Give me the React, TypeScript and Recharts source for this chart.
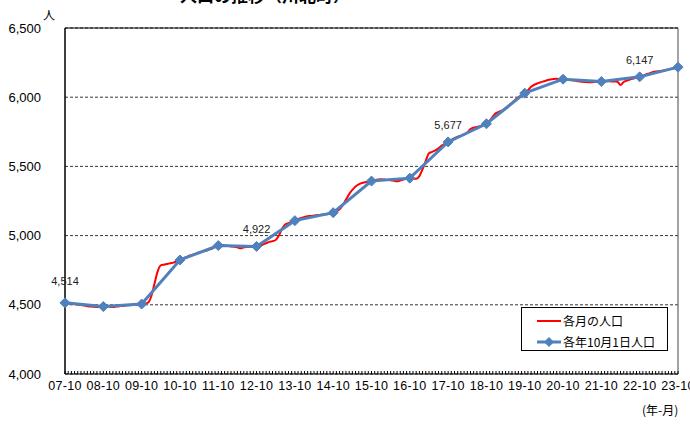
import React from "react";
import {
  LineChart, Line, XAxis, YAxis, CartesianGrid, ReferenceLine, LabelList,
} from "recharts";

// tick labels for each October
const yearLabels = [
  "07-10", "08-10", "09-10", "10-10", "11-10", "12-10", "13-10", "14-10", "15-10",
  "16-10", "17-10", "18-10", "19-10", "20-10", "21-10", "22-10", "23-10",
];

// population on Oct 1 of each year
const yearlyValues = [
  4514, 4487, 4505, 4824, 4928, 4922, 5108, 5166, 5394,
  5415, 5677, 5808, 6029, 6130, 6113, 6147, 6217,
];

// monthly population, Oct .. Sep of each year
const m07 = [4514, 4510, 4507, 4505, 4502, 4498, 4495, 4490, 4488, 4486, 4484, 4485];
const m08 = [4487, 4488, 4486, 4485, 4487, 4490, 4492, 4495, 4497, 4500, 4502, 4503];
const m09 = [4505, 4508, 4515, 4560, 4650, 4740, 4785, 4790, 4795, 4800, 4805, 4815];
const m10 = [4824, 4835, 4845, 4855, 4862, 4870, 4878, 4885, 4890, 4898, 4905, 4918];
const m11 = [4928, 4930, 4928, 4925, 4922, 4920, 4915, 4908, 4915, 4918, 4920, 4921];
const m12 = [4922, 4928, 4935, 4945, 4955, 4960, 4968, 5000, 5050, 5080, 5090, 5100];
const m13 = [5108, 5120, 5128, 5135, 5140, 5142, 5145, 5148, 5150, 5152, 5155, 5158];
const m14 = [5166, 5175, 5190, 5220, 5260, 5300, 5330, 5355, 5370, 5380, 5385, 5390];
const m15 = [5394, 5400, 5405, 5408, 5405, 5402, 5400, 5396, 5392, 5398, 5405, 5410];
const m16 = [5415, 5412, 5410, 5430, 5480, 5540, 5595, 5605, 5615, 5630, 5650, 5665];
const m17 = [5677, 5690, 5705, 5715, 5720, 5730, 5745, 5770, 5780, 5785, 5790, 5800];
const m18 = [5808, 5830, 5860, 5885, 5895, 5905, 5920, 5940, 5960, 5980, 6000, 6015];
const m19 = [6029, 6050, 6075, 6090, 6100, 6108, 6115, 6122, 6128, 6132, 6133, 6131];
const m20 = [6130, 6128, 6125, 6122, 6118, 6115, 6112, 6110, 6108, 6108, 6110, 6112];
const m21 = [6113, 6115, 6115, 6114, 6113, 6112, 6088, 6110, 6120, 6128, 6135, 6142];
const m22 = [6147, 6155, 6165, 6172, 6180, 6185, 6188, 6192, 6195, 6200, 6205, 6210];
const m23 = [6217];

const monthlyValues = [
  ...m07, ...m08, ...m09, ...m10, ...m11, ...m12, ...m13, ...m14, ...m15,
  ...m16, ...m17, ...m18, ...m19, ...m20, ...m21, ...m22, ...m23,
];

const labeledYears = [0, 5, 10, 15];
const yTicks = [4000, 4500, 5000, 5500, 6000, 6500];

const data = monthlyValues.map((v, i) => ({
  i,
  monthly: v,
  yearly: i % 12 === 0 ? yearlyValues[i / 12] : null,
}));

const latin = '"Liberation Sans", Arial, sans-serif';
const cjk = '"Noto Sans CJK JP", "Liberation Sans", sans-serif';

const XTick = (props: any) => {
  const { x, y, payload } = props;
  const v = payload.value;
  return (
    <g>
      <line x1={x} x2={x} y1={y} y2={y - 3} stroke="#000" strokeWidth={1} />
      {v % 12 === 0 && (
        <text x={x} y={y + 16} textAnchor="middle" fontSize={12.5} fontFamily={latin} fill="#000" letterSpacing={0.3}>
          {yearLabels[v / 12]}
        </text>
      )}
    </g>
  );
};

const Diamond = (props: any) => {
  const { cx, cy, payload, index } = props;
  if (payload?.yearly == null || cx == null || cy == null) return <g key={`d-${index}`} />;
  const r = 5;
  return (
    <path
      key={`d-${index}`}
      d={`M${cx},${cy - r} L${cx + r},${cy} L${cx},${cy + r} L${cx - r},${cy} Z`}
      fill="#4f81bd"
      stroke="#4f81bd"
    />
  );
};

const ValueLabel = (props: any) => {
  const { x, y, value, index } = props;
  if (value == null || !labeledYears.includes(index / 12)) return null;
  const dy = index === 0 ? 18 : 13;
  return (
    <text x={x} y={y - dy} textAnchor="middle" fontSize={11} fontFamily={latin} fill="#222">
      {Number(value).toLocaleString("en-US")}
    </text>
  );
};

export default function App() {
  return (
    <div style={{ position: "absolute", left: 0, top: 0, width: 690, height: 428, background: "#fff", overflow: "hidden" }}>
      <div style={{ position: "absolute", left: 180, top: -14, width: 160, textAlign: "center", fontSize: 17, fontWeight: 700, fontFamily: cjk, lineHeight: 1, whiteSpace: "nowrap" }}>
        人口の推移（川北町）
      </div>
      <div style={{ position: "absolute", left: 43, top: 9, fontSize: 12, fontFamily: cjk, lineHeight: 1 }}>人</div>

      <LineChart width={690} height={428} data={data} margin={{ top: 28, right: 12, bottom: 24, left: 0 }}>
        <CartesianGrid vertical={false} stroke="#000" strokeDasharray="3 2" strokeWidth={0.8} />
        <XAxis
          dataKey="i"
          type="number"
          domain={[0, 192]}
          ticks={data.map((d) => d.i)}
          interval={0}
          height={30}
          tickSize={0}
          tickMargin={0}
          tickLine={false}
          axisLine={{ stroke: "#000", strokeWidth: 1.2 }}
          tick={<XTick />}
        />
        <YAxis
          domain={[4000, 6500]}
          ticks={yTicks}
          width={65}
          tickLine={false}
          tickSize={0}
          tickMargin={24}
          axisLine={{ stroke: "#000", strokeWidth: 1.5 }}
          tick={{ fontSize: 13, fill: "#000", fontFamily: latin }}
          tickFormatter={(v: number) => v.toLocaleString("en-US")}
        />
        <ReferenceLine y={6500} stroke="#000" strokeWidth={1.2} />
        <ReferenceLine x={192} stroke="#666" strokeWidth={1.2} />
        <Line
          type="monotone"
          dataKey="monthly"
          stroke="#ff0000"
          strokeWidth={2}
          dot={false}
          activeDot={false}
          isAnimationActive={false}
        />
        <Line
          type="linear"
          dataKey="yearly"
          stroke="#4f81bd"
          strokeWidth={3}
          connectNulls
          dot={<Diamond />}
          activeDot={false}
          isAnimationActive={false}
        >
          <LabelList dataKey="yearly" content={<ValueLabel />} />
        </Line>
      </LineChart>

      <div style={{ position: "absolute", left: 521, top: 307, width: 147, height: 44, border: "1px solid #000", background: "#fff", fontFamily: cjk, fontSize: 12, boxSizing: "border-box" }}>
        <div style={{ position: "absolute", left: 15, top: 4, display: "flex", alignItems: "center" }}>
          <svg width={24} height={12}><line x1={0} x2={24} y1={6} y2={6} stroke="#ff0000" strokeWidth={2} /></svg>
          <span style={{ marginLeft: 2 }}>各月の人口</span>
        </div>
        <div style={{ position: "absolute", left: 15, top: 25, display: "flex", alignItems: "center" }}>
          <svg width={24} height={12}>
            <line x1={0} x2={24} y1={6} y2={6} stroke="#4f81bd" strokeWidth={3} />
            <path d="M12,1 L17,6 L12,11 L7,6 Z" fill="#4f81bd" />
          </svg>
          <span style={{ marginLeft: 2 }}>各年10月1日人口</span>
        </div>
      </div>

      <div style={{ position: "absolute", left: 642, top: 404, fontSize: 12, fontFamily: cjk, lineHeight: 1 }}>(年-月)</div>
    </div>
  );
}
